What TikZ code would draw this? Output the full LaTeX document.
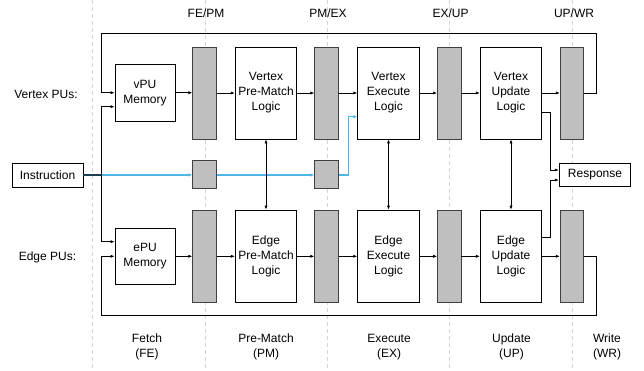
\documentclass[tikz,border=0pt]{standalone}
\usepackage{fontspec}
\setmainfont{Liberation Sans}
\usetikzlibrary{arrows.meta}
\definecolor{regfill}{RGB}{191,191,191}
\definecolor{regdraw}{RGB}{64,64,64}
\definecolor{instblue}{RGB}{78,182,230}
\definecolor{sepgray}{RGB}{212,212,212}
\tikzset{
  txt/.style={font=\fontsize{12}{15}\selectfont, align=center, inner sep=0pt},
  blk/.style={txt, draw=black, line width=0.8pt, fill=white},
  reg/.style={draw=regdraw, fill=regfill, line width=0.8pt, inner sep=0pt, minimum width=23.5pt},
  arr/.style={-{Latex[length=4pt,width=3.2pt]}, line width=0.75pt},
  darr/.style={{Latex[length=4pt,width=3.2pt]}-{Latex[length=4pt,width=3.2pt]}, line width=0.75pt},
  barr/.style={-{Latex[length=4pt,width=3.4pt]}, line width=1.2pt, draw=instblue},
  stagesep/.style={draw=sepgray, line width=0.9pt, dash pattern=on 4pt off 3pt},
}
\begin{document}
\begin{tikzpicture}[x=1pt,y=-1pt]
\useasboundingbox (0,0) rectangle (644,371);
% stage separators
\foreach \xx in {92,205,327,449.3,572}{
  \draw[stagesep] (\xx,0) -- (\xx,371);
}
% headers
\node[txt] (hfp) at (206,13) {FE/PM};
\node[txt] (hpe) at (328,13) {PM/EX};
\node[txt] (heu) at (450.5,13) {EX/UP};
\node[txt] (huw) at (574,13) {UP/WR};
% footers
\node[txt] (ffe) at (147,347) {Fetch\\(FE)};
\node[txt] (fpm) at (266,347) {Pre-Match\\(PM)};
\node[txt] (fex) at (389,347) {Execute\\(EX)};
\node[txt] (fup) at (511.5,347) {Update\\(UP)};
\node[txt] (fwr) at (607,347) {Write\\(WR)};
% row labels
\node[txt] (lv) at (46,94) {Vertex PUs:};
\node[txt] (le) at (47.5,257) {Edge PUs:};
% memories
\node[blk, minimum width=60pt, minimum height=56.7pt] (vmem) at (145,92.7) {vPU\\Memory};
\node[blk, minimum width=60pt, minimum height=56pt] (emem) at (145,256.3) {ePU\\Memory};
% registers vertex
\node[reg, minimum height=92pt] (rv1) at (204.5,93) {};
\node[reg, minimum height=92pt] (rv2) at (326.5,93) {};
\node[reg, minimum height=92pt] (rv3) at (449.3,93) {};
\node[reg, minimum height=92pt] (rv4) at (572,93) {};
% registers edge
\node[reg, minimum height=92.5pt] (re1) at (204.5,256.3) {};
\node[reg, minimum height=92.5pt] (re2) at (326.5,256.3) {};
\node[reg, minimum height=92.5pt] (re3) at (449.3,256.3) {};
\node[reg, minimum height=92.5pt] (re4) at (572,256.3) {};
% small instruction registers
\node[reg, minimum height=28pt] (s1) at (204.5,174) {};
\node[reg, minimum height=28pt] (s2) at (326.5,174) {};
% logic blocks
\node[blk, minimum width=61.4pt, minimum height=92pt] (vpm) at (266,93) {Vertex\\Pre-Match\\Logic};
\node[blk, minimum width=61.6pt, minimum height=92pt] (vex) at (388.5,93) {Vertex\\Execute\\Logic};
\node[blk, minimum width=61.4pt, minimum height=92pt] (vup) at (511,93) {Vertex\\Update\\Logic};
\node[blk, minimum width=61.4pt, minimum height=92.5pt] (epm) at (266,256.3) {Edge\\Pre-Match\\Logic};
\node[blk, minimum width=61.6pt, minimum height=92.5pt] (eex) at (388.5,256.3) {Edge\\Execute\\Logic};
\node[blk, minimum width=61.4pt, minimum height=92.5pt] (eup) at (511,256.3) {Edge\\Update\\Logic};
% instruction & response
\node[blk, minimum width=71pt, minimum height=24pt] (instr) at (47.5,175) {Instruction};
\node[blk, minimum width=71.4pt, minimum height=23pt] (resp) at (595,174.8) {Response};
% vertex pipeline
\draw[arr] (vmem.east) -- (rv1.west |- vmem.east);
\draw[arr] (rv1.east |- vpm.west) -- (vpm.west);
\draw[arr] (vpm.east) -- (rv2.west |- vpm.east);
\draw[arr] (rv2.east |- vex.west) -- (vex.west);
\draw[arr] (vex.east) -- (rv3.west |- vex.east);
\draw[arr] (rv3.east |- vup.west) -- (vup.west);
\draw[arr] (vup.east) -- (rv4.west |- vup.east);
% edge pipeline
\draw[arr] (emem.east) -- (re1.west |- emem.east);
\draw[arr] (re1.east |- epm.west) -- (epm.west);
\draw[arr] (epm.east) -- (re2.west |- epm.east);
\draw[arr] (re2.east |- eex.west) -- (eex.west);
\draw[arr] (eex.east) -- (re3.west |- eex.east);
\draw[arr] (re3.east |- eup.west) -- (eup.west);
\draw[arr] (eup.east) -- (re4.west |- eup.east);
% feedback loops
\coordinate (fvR) at (596,33);
\coordinate (fvL) at (101.7,33);
\coordinate (feR) at (596,315);
\coordinate (feL) at (101.7,315);
\draw[arr] (rv4.east) -| (fvR) -- (fvL) |- (vmem.west);
\draw[arr] (re4.east) -| (feR) -- (feL) |- (emem.west);
% instruction paths
\coordinate (ib) at (101.7,175);
\coordinate (bj) at (348.3,116.7);
\draw[barr] (instr.east) -- (s1.west |- instr.east);
\draw[barr] (s1.east |- instr.east) -- (s2.west |- instr.east);
\draw[barr] (s2.east |- instr.east) -| (bj) -- (bj -| vex.west);
\draw[line width=1.1pt, draw=black!65!instblue] (instr.east) -- (ib);
\draw[arr] (ib) |- ([yshift=-14pt]vmem.west);
\draw[arr] (ib) |- ([yshift=14.6pt]emem.west);
% vertical exchanges
\draw[darr] (vpm.south) -- (epm.north);
\draw[darr] (vex.south) -- (eex.north);
\draw[darr] (vup.south) -- (eup.north);
% response
\draw[arr] ([yshift=-19.3pt]vup.east) -- ++(8.3,0) |- ([yshift=4.8pt]resp.west);
\draw[arr] ([yshift=19pt]eup.east) -- ++(8.3,0) |- ([yshift=-5.2pt]resp.west);
\end{tikzpicture}
\end{document}
